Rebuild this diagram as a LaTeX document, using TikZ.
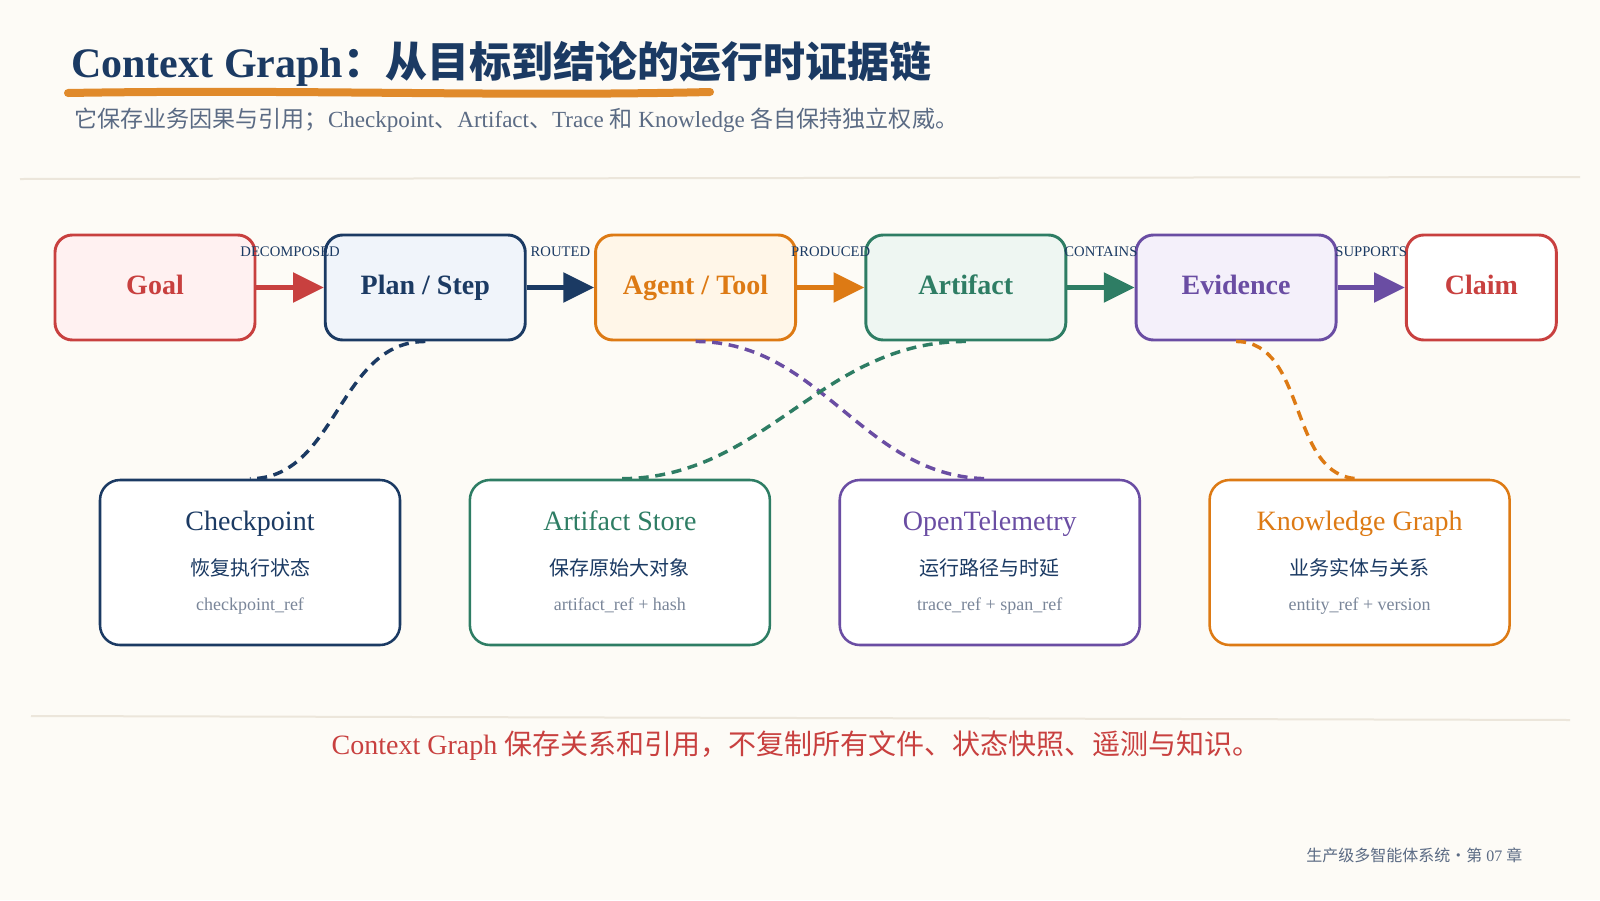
\documentclass[tikz,border=0pt]{standalone}
\usepackage{fontspec}
\setmainfont{Liberation Serif}
\newfontfamily\cjk{Noto Sans CJK SC}
\usepackage{tikz}
\usetikzlibrary{arrows.meta,positioning,calc}
\definecolor{clNavy}{HTML}{1B3A63}
\definecolor{clRed}{HTML}{C8403F}
\definecolor{clOrange}{HTML}{DD7A14}
\definecolor{clGreen}{HTML}{2E7D64}
\definecolor{clPurple}{HTML}{6A4DA3}
\definecolor{clMuted}{HTML}{5B6B84}
\definecolor{clRef}{HTML}{7A8699}
\definecolor{clBg}{HTML}{FDFBF6}
\definecolor{clRule}{HTML}{ECE6DB}
\definecolor{clBrush}{HTML}{E08A2B}
\definecolor{clGoalFill}{HTML}{FFF1F1}
\definecolor{clPlanFill}{HTML}{F0F4FA}
\definecolor{clAgentFill}{HTML}{FFF6E8}
\definecolor{clArtifactFill}{HTML}{EEF6F2}
\definecolor{clEvidenceFill}{HTML}{F4F0FA}
\tikzset{
  box/.style={rectangle, rounded corners=13pt, draw, line width=2.2pt, inner sep=0pt,
              minimum width=150pt, minimum height=78.75pt, text height=14pt, text depth=4pt,
              font=\fontsize{21}{24}\selectfont\bfseries},
  goal/.style={box, draw=clRed, fill=clGoalFill, text=clRed},
  plan/.style={box, draw=clNavy, fill=clPlanFill, text=clNavy},
  agent/.style={box, draw=clOrange, fill=clAgentFill, text=clOrange},
  artifact/.style={box, draw=clGreen, fill=clArtifactFill, text=clGreen},
  evidence/.style={box, draw=clPurple, fill=clEvidenceFill, text=clPurple},
  claim/.style={box, draw=clRed, fill=white, text=clRed, minimum width=112.5pt},
  card/.style={rectangle, rounded corners=15pt, draw=#1, line width=1.9pt, fill=white,
               minimum width=225pt, minimum height=123.75pt},
  cardtitle/.style={text=#1, anchor=base, font=\fontsize{21}{24}\selectfont},
  cardzh/.style={text=clNavy, font=\cjk\fontsize{15}{18}\selectfont},
  cardref/.style={text=clRef, anchor=base, font=\fontsize{13.5}{16}\selectfont},
  flow/.style={-{Triangle[length=23pt,width=22pt]}, line width=3.2pt, draw=#1},
  flowlabel/.style={font=\fontsize{11}{13}\selectfont, text=clNavy, inner sep=0pt},
  link/.style={draw=#1, line width=2.6pt, dash pattern=on 7.5pt off 5pt},
}
\begin{document}
\begin{tikzpicture}[x=0.75pt, y=-0.75pt, node distance=50.5pt]
  \fill[clBg] (0,0) rectangle (1600,900);
  \useasboundingbox (0,0) rectangle (1600,900);
  % header
  \node[anchor=base west, inner sep=0pt, text=clNavy, font=\fontsize{31.5}{36}\selectfont\bfseries] (title) at (71,77)
    {Context Graph{\cjk ：从目标到结论的运行时证据链}};
  \draw[clBrush, line width=6pt, line cap=round] (68,93) .. controls (300,89) and (500,97) .. (710,92);
  \node[anchor=base west, inner sep=0pt, text=clMuted, font=\fontsize{17.3}{20}\selectfont] (subtitle) at (74,127)
    {{\cjk 它保存业务因果与引用；}Checkpoint{\cjk 、}Artifact{\cjk 、}Trace {\cjk 和} Knowledge {\cjk 各自保持独立权威。}};
  \draw[clRule, line width=1.5pt] (20,179) -- (1580,177);

  % chain
  \node[goal] (goal) at (155,287.5) {Goal};
  \node[plan, right=of goal] (plan) {Plan / Step};
  \node[agent, right=of plan] (agent) {Agent / Tool};
  \node[artifact, right=of agent] (artifact) {Artifact};
  \node[evidence, right=of artifact] (evidence) {Evidence};
  \node[claim, right=of evidence] (claim) {Claim};

  % stores
  \node[card=clNavy] (ckpt) at (250,562.5) {};
  \node[card=clGreen, right=of ckpt] (store) {};
  \node[card=clPurple, right=of store] (otel) {};
  \node[card=clOrange, right=of otel] (kg) {};
  \foreach \n/\c/\ttl/\zh/\rf in {ckpt/clNavy/Checkpoint/恢复执行状态/checkpoint\_ref,
      store/clGreen/Artifact Store/保存原始大对象/artifact\_ref + hash,
      otel/clPurple/OpenTelemetry/运行路径与时延/trace\_ref + span\_ref,
      kg/clOrange/Knowledge Graph/业务实体与关系/entity\_ref + version} {
    \node[cardtitle=\c] (\n-title) at ($(\n)+(0,-32)$) {\ttl};
    \node[cardzh] (\n-zh) at ($(\n)+(0,5)$) {\zh};
    \node[cardref] (\n-ref) at ($(\n)+(0,48)$) {\rf};
  }

  \draw[link=clNavy] (plan.south) to[out=180, in=0] (ckpt.north);
  \draw[link=clPurple] (agent.south) to[out=0, in=180] (otel.north);
  \draw[link=clGreen] (artifact.south) to[out=180, in=0] (store.north);
  \draw[link=clOrange] (evidence.south) to[out=0, in=180] (kg.north);

  \draw[flow=clRed] (goal) -- node[flowlabel, yshift=27pt] (l-dec) {DECOMPOSED} (plan);
  \draw[flow=clNavy] (plan) -- node[flowlabel, yshift=27pt] (l-rou) {ROUTED} (agent);
  \draw[flow=clOrange] (agent) -- node[flowlabel, yshift=27pt] (l-pro) {PRODUCED} (artifact);
  \draw[flow=clGreen] (artifact) -- node[flowlabel, yshift=27pt] (l-con) {CONTAINS} (evidence);
  \draw[flow=clPurple] (evidence) -- node[flowlabel, yshift=27pt] (l-sup) {SUPPORTS} (claim);

  % footer
  \draw[clRule, line width=1.5pt] (31,716) -- (1570,720);
  \node[anchor=base, text=clRed, font=\fontsize{21}{24}\selectfont] (summary) at (796,754)
    {Context Graph {\cjk 保存关系和引用，不复制所有文件、状态快照、遥测与知识。}};
  \node[anchor=base east, text=clMuted, font=\fontsize{12}{14}\selectfont] (footer) at (1527,861)
    {{\cjk 生产级多智能体系统·第} 07 {\cjk 章}};
\end{tikzpicture}
\end{document}
